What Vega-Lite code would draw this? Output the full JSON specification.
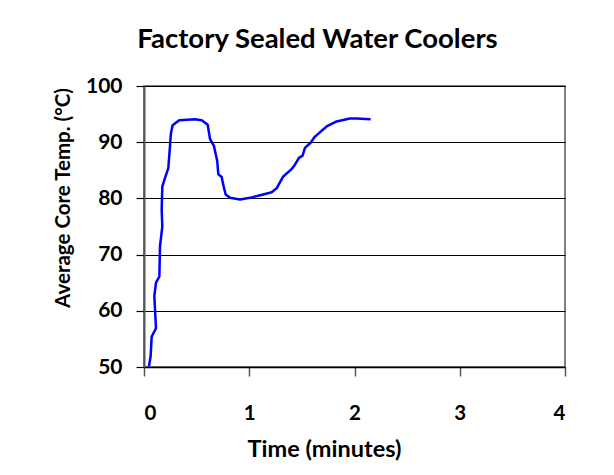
{
  "$schema": "https://vega.github.io/schema/vega-lite/v6.json",
  "width": 421,
  "height": 281,
  "autosize": {"type": "none"},
  "padding": {"left": 144, "top": 86, "right": 49, "bottom": 108},
  "background": "white",
  "title": {
    "text": "Factory Sealed Water Coolers",
    "font": "Lato",
    "fontSize": 27.5,
    "fontWeight": "bold",
    "color": "black",
    "anchor": "middle",
    "frame": "group",
    "dx": -37,
    "offset": 22
  },
  "data": {
    "values": [
      {"t": 0.047, "temp": 50.1},
      {"t": 0.063, "temp": 51.9},
      {"t": 0.073, "temp": 55.4},
      {"t": 0.114, "temp": 56.9},
      {"t": 0.098, "temp": 62.6},
      {"t": 0.114, "temp": 65.0},
      {"t": 0.146, "temp": 66.1},
      {"t": 0.152, "temp": 71.5},
      {"t": 0.174, "temp": 75.0},
      {"t": 0.168, "temp": 78.0},
      {"t": 0.174, "temp": 82.1},
      {"t": 0.199, "temp": 83.6},
      {"t": 0.231, "temp": 85.4},
      {"t": 0.247, "temp": 89.3},
      {"t": 0.256, "temp": 91.6},
      {"t": 0.272, "temp": 93.0},
      {"t": 0.335, "temp": 93.9},
      {"t": 0.484, "temp": 94.1},
      {"t": 0.548, "temp": 93.9},
      {"t": 0.605, "temp": 93.1},
      {"t": 0.627, "temp": 90.6},
      {"t": 0.665, "temp": 89.3},
      {"t": 0.696, "temp": 86.6},
      {"t": 0.706, "temp": 84.3},
      {"t": 0.738, "temp": 83.8},
      {"t": 0.753, "temp": 82.4},
      {"t": 0.776, "temp": 80.7},
      {"t": 0.817, "temp": 80.1},
      {"t": 0.912, "temp": 79.8},
      {"t": 1.007, "temp": 80.1},
      {"t": 1.133, "temp": 80.7},
      {"t": 1.213, "temp": 81.1},
      {"t": 1.26, "temp": 81.8},
      {"t": 1.323, "temp": 83.9},
      {"t": 1.402, "temp": 85.2},
      {"t": 1.434, "temp": 86.0},
      {"t": 1.472, "temp": 87.2},
      {"t": 1.507, "temp": 87.6},
      {"t": 1.529, "temp": 89.0},
      {"t": 1.583, "temp": 89.9},
      {"t": 1.624, "temp": 91.0},
      {"t": 1.735, "temp": 92.8},
      {"t": 1.83, "temp": 93.7},
      {"t": 1.956, "temp": 94.2},
      {"t": 2.02, "temp": 94.2},
      {"t": 2.153, "temp": 94.1}
    ]
  },
  "mark": {"type": "line", "color": "#0000FF", "strokeWidth": 2.5, "strokeJoin": "round", "clip": true},
  "encoding": {
    "x": {
      "field": "t",
      "type": "quantitative",
      "scale": {"domain": [0, 4], "nice": false, "zero": false},
      "axis": {
        "title": "Time (minutes)",
        "values": [0, 1, 2, 3, 4],
        "grid": false,
        "domainColor": "black",
        "domainWidth": 1.5,
        "tickColor": "#555555",
        "tickWidth": 1.5,
        "tickSize": 9,
        "labelPadding": 27,
        "labelFontSize": 20.5,
        "titleFontSize": 23.5,
        "titlePadding": 14,
        "titleX": 180,
        "titleAnchor": "middle"
      }
    },
    "y": {
      "field": "temp",
      "type": "quantitative",
      "scale": {"domain": [50, 100], "nice": false, "zero": false},
      "axis": {
        "title": "Average Core Temp. (°C)",
        "values": [50, 60, 70, 80, 90, 100],
        "grid": true,
        "gridColor": "black",
        "gridWidth": 1.2,
        "gridOpacity": 1,
        "domainColor": "#555555",
        "domainWidth": 2,
        "tickColor": "black",
        "tickWidth": 1.2,
        "tickSize": 8,
        "labelPadding": 14,
        "labelFontSize": 21,
        "titleFontSize": 20.5,
        "titlePadding": 12,
        "titleY": 111.5,
        "titleAnchor": "middle"
      }
    },
    "order": {"value": null}
  },
  "config": {
    "font": "Lato",
    "view": {"stroke": "#555555", "strokeWidth": 1.5},
    "axis": {
      "labelFont": "Lato",
      "titleFont": "Lato",
      "labelFontWeight": "bold",
      "titleFontWeight": "bold",
      "labelColor": "black",
      "titleColor": "black"
    }
  }
}
